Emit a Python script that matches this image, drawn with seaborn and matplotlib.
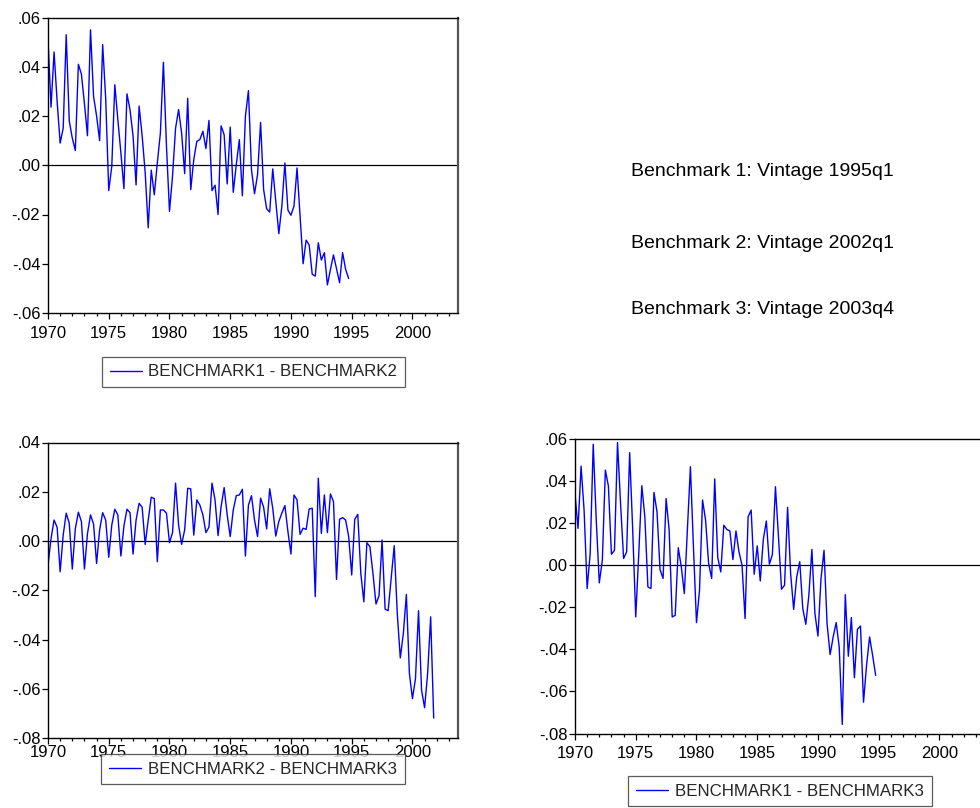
import numpy as np
import pandas as pd
import matplotlib
matplotlib.use("Agg")
import matplotlib.pyplot as plt
from matplotlib.ticker import FuncFormatter, MultipleLocator
import seaborn as sns

# Quarterly revision differences, starting 1970q1
bench1_minus_2 = [
    0.051, 0.0236, 0.046, 0.026, 0.009, 0.015, 0.053, 0.018, 0.011, 0.006,
    0.041, 0.037, 0.025, 0.012, 0.055, 0.028, 0.020, 0.010, 0.049, 0.027,
    -0.0103, -0.0005, 0.0327, 0.0185, 0.005, -0.0095, 0.029, 0.0226, 0.012, -0.008,
    0.024, 0.012, -0.003, -0.0254, -0.002, -0.012, 0.001, 0.013, 0.0418, 0.008,
    -0.0187, -0.0045, 0.015, 0.0226, 0.013, -0.0034, 0.0272, -0.0099, 0.0023, 0.0097,
    0.0104, 0.0138, 0.0068, 0.0182, -0.0103, -0.0081, -0.020, 0.016, 0.0124, -0.0076,
    0.0155, -0.011, 0.0003, 0.0104, -0.0124, 0.0199, 0.0303, -0.0018, -0.0116, -0.0038,
    0.0174, -0.0099, -0.0177, -0.019, -0.0015, -0.0146, -0.0278, -0.0166, 0.0009, -0.0182,
    -0.0203, -0.0166, -0.0011, -0.0207, -0.040, -0.0304, -0.0324, -0.0443, -0.045, -0.0315,
    -0.0385, -0.0355, -0.0486, -0.0423, -0.0364, -0.042, -0.0477, -0.0355, -0.0423, -0.046,
]

bench2_minus_3 = [
    -0.0098, 0.001, 0.0085, 0.0056, -0.0125, 0.0024, 0.0113, 0.0072, -0.0114, 0.005,
    0.0117, 0.0079, -0.0114, 0.003, 0.0106, 0.0069, -0.0091, 0.0045, 0.0115, 0.0085,
    -0.0066, 0.0065, 0.0129, 0.0106, -0.0061, 0.0061, 0.0129, 0.0115, -0.0053, 0.0085,
    0.0153, 0.0137, -0.0014, 0.0085, 0.0178, 0.0172, -0.0084, 0.0126, 0.0126, 0.0113,
    -0.0007, 0.0034, 0.0235, 0.0065, -0.0014, 0.0045, 0.0214, 0.0212, 0.0024, 0.0167,
    0.0146, 0.0106, 0.0034, 0.0056, 0.0235, 0.0167, 0.0022, 0.014, 0.0217, 0.0106,
    0.0018, 0.0126, 0.0184, 0.0187, 0.021, -0.0061, 0.0146, 0.0184, 0.0085, 0.0018,
    0.0174, 0.0137, 0.0049, 0.0212, 0.0133, 0.002, 0.0079, 0.0113, 0.0144, 0.0038,
    -0.0053, 0.0187, 0.0167, 0.0027, 0.0052, 0.0047, 0.013, 0.0133, -0.0226, 0.0255,
    0.0031, 0.0187, 0.0034, 0.0191, 0.016, -0.0156, 0.0088, 0.0095, 0.0085, 0.0018,
    -0.0138, 0.0088, 0.0108, -0.0132, -0.0247, -0.0007, -0.0023, -0.0132, -0.0256, -0.0222,
    0.0004, -0.0277, -0.0283, -0.0152, -0.0019, -0.0294, -0.0475, -0.0376, -0.0217, -0.0538,
    -0.064, -0.0559, -0.0283, -0.0606, -0.0677, -0.0538, -0.0308, -0.0719,
]

bench1_minus_3 = [
    0.0338, 0.0175, 0.0471, 0.026, -0.0111, 0.0056, 0.0575, 0.0214, -0.0084, 0.0024,
    0.0452, 0.0376, 0.0052, 0.0071, 0.0583, 0.0294, 0.0032, 0.0063, 0.0535, 0.0167,
    -0.0246, 0.0056, 0.0378, 0.023, -0.0103, -0.0111, 0.0346, 0.0254, -0.0021, -0.0063,
    0.0317, 0.0167, -0.0246, -0.0238, 0.0083, -0.0008, -0.0135, 0.0167, 0.0468, 0.0087,
    -0.0273, -0.0119, 0.031, 0.0214, 0.0008, -0.0063, 0.041, 0.0037, -0.0032, 0.019,
    0.017, 0.0163, 0.0027, 0.0163, 0.0063, 0.0, -0.0254, 0.023, 0.0262, -0.0043,
    0.0092, -0.0075, 0.0122, 0.021, 0.0005, 0.0051, 0.0373, 0.0135, -0.0114, -0.0095,
    0.0275, -0.004, -0.021, -0.0056, 0.0017, -0.0206, -0.0281, -0.0143, 0.0075, -0.023,
    -0.0337, -0.0063, 0.0071, -0.0278, -0.0425, -0.0341, -0.0273, -0.0389, -0.0757, -0.014,
    -0.0433, -0.0249, -0.0535, -0.0305, -0.0289, -0.0651, -0.0476, -0.0341, -0.0429, -0.0524,
]

legend_labels = ["BENCHMARK1 - BENCHMARK2", "BENCHMARK2 - BENCHMARK3", "BENCHMARK1 - BENCHMARK3"]
vintage_notes = ["Benchmark 1: Vintage 1995q1", "Benchmark 2: Vintage 2002q1", "Benchmark 3: Vintage 2003q4"]
year_ticks = [1970, 1975, 1980, 1985, 1990, 1995, 2000]

START_YEAR = 1970
N_QUARTERS = 136  # 1970q1 .. 2003q4

sns.set_style("white")
plt.rcParams["font.family"] = ["Liberation Sans", "DejaVu Sans"]

W, H = 980, 808
fig = plt.figure(figsize=(W / 100, H / 100), dpi=100)


def px_axes(left, top, right, bottom):
    return fig.add_axes([left / W, 1 - bottom / H, (right - left) / W, (bottom - top) / H])


def fmt_y(v, _pos):
    s = f"{v:.2f}"
    if s in ("-0.00", "0.00"):
        return ".00"
    return s.replace("0.", ".", 1)


def to_frame(values):
    q = np.arange(len(values))
    return pd.DataFrame({"date": START_YEAR + q / 4.0, "value": values})


def draw_panel(ax, values, ylim, label, legend_center, xpad):
    df = to_frame(values)
    sns.lineplot(data=df, x="date", y="value", ax=ax, color="#0000FF",
                 linewidth=1.0, legend=False)
    line = ax.lines[0]
    ax.axhline(0, color="black", linewidth=0.9, zorder=1)
    ax.set_xlim(START_YEAR, START_YEAR + (N_QUARTERS - 1) / 4.0)
    ax.set_ylim(*ylim)
    ax.set_xticks(year_ticks)
    ax.xaxis.set_minor_locator(MultipleLocator(1))
    ax.yaxis.set_major_locator(MultipleLocator(0.02))
    ax.yaxis.set_major_formatter(FuncFormatter(fmt_y))
    ax.set_xlabel("")
    ax.set_ylabel("")
    ax.tick_params(axis="x", which="major", bottom=True, direction="out",
                   length=4.2, width=0.9, color="black", labelsize=12,
                   pad=xpad, labelcolor="black")
    ax.tick_params(axis="x", which="minor", bottom=True, direction="out",
                   length=2.3, width=0.9, color="black")
    ax.tick_params(axis="y", which="major", left=True, direction="out",
                   length=4.5, width=0.9, color="black", labelsize=12,
                   pad=1, labelcolor="black")
    for side in ("left", "bottom", "top"):
        ax.spines[side].set_color("black")
        ax.spines[side].set_linewidth(1.0)
    ax.spines["right"].set_color("#555555")
    ax.spines["right"].set_linewidth(1.6)
    leg = fig.legend([line], [label], loc="center",
                     bbox_to_anchor=(legend_center[0] / W, 1 - legend_center[1] / H),
                     frameon=True, fancybox=False, fontsize=12.2,
                     handlelength=1.9, handletextpad=0.4, borderpad=0.45,
                     borderaxespad=0)
    leg.get_frame().set_edgecolor("#333333")
    leg.get_frame().set_linewidth(0.9)


ax1 = px_axes(48, 17.5, 458, 313)
draw_panel(ax1, bench1_minus_2, (-0.06, 0.06), legend_labels[0], (253.5, 372), 4.8)

ax2 = px_axes(48, 442.5, 458, 738)
draw_panel(ax2, bench2_minus_3, (-0.08, 0.04), legend_labels[1], (253, 769), 0.6)

ax3 = px_axes(575, 439, 985, 733.5)
draw_panel(ax3, bench1_minus_3, (-0.08, 0.06), legend_labels[2], (780, 791), 4.8)

for note, y in zip(vintage_notes, (171, 244, 310)):
    fig.text(631 / W, 1 - y / H, note, ha="left", va="center", fontsize=14,
             color="black")

fig.savefig("out.png", dpi=100)
